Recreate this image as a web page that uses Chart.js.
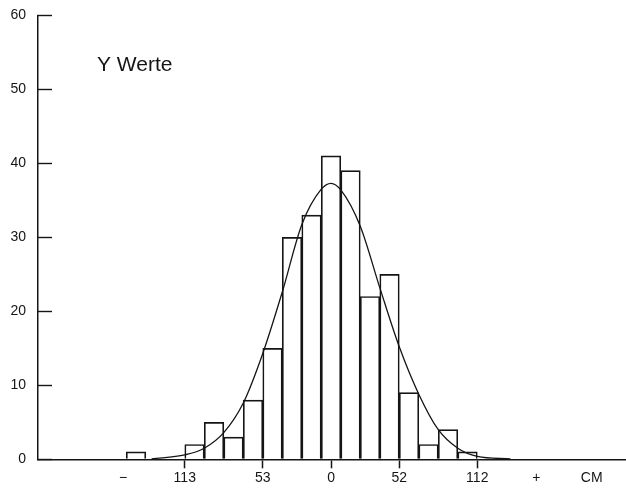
<!DOCTYPE html>
<html>
<head>
<meta charset="utf-8">
<script src="https://cdn.jsdelivr.net/npm/chart.js@4/dist/chart.umd.min.js"></script>
<style>
  html, body { margin: 0; padding: 0; background: #fff; }
  #wrap { position: relative; width: 626px; height: 489px; }
</style>
</head>
<body>
<div id="wrap"><canvas id="c"></canvas></div>
<script>
// ---- data ----
const titleText = 'Y Werte';
// histogram: bin centres in cm (bin width 15 cm) and counts
const binCenters = [-150, -105, -90, -75, -60, -45, -30, -15, 0, 15, 30, 45, 60, 75, 90, 105];
const binCounts  = [1, 2, 5, 3, 8, 15, 30, 33, 41, 39, 22, 25, 9, 2, 4, 1];
// fitted curve, points
const curveX = [-138, -112.5, -97.5, -82.5, -67.5, -52.5, -37.5, -22.5, -7.5, 0, 7.5, 22.5, 37.5, 52.5, 67.5, 82.5, 97.5, 112.5, 138];
const curveY = [0.05, 0.6, 1.5, 3.6, 7.6, 14.3, 22.6, 31.7, 36.5, 37.3, 36.4, 31.5, 23.2, 15.2, 8.8, 4.0, 1.5, 0.4, 0.05];
// x axis tick positions and labels
const xTickValues = [-160, -112.5, -52.5, 0, 52.5, 112.5, 158, 200.5];
const xTickLabels = ['\u2212', '113', '53', '0', '52', '112', '+', 'CM'];
const xNoMark = ['\u2212', '+', 'CM'];
const yTicks = [0, 10, 20, 30, 40, 50, 60];

const ink = '#151515';
const font = { family: '"Liberation Sans", Arial, sans-serif', size: 14 };

const titlePlugin = {
  id: 'innerTitle',
  afterDraw(chart) {
    const ctx = chart.ctx;
    ctx.save();
    ctx.font = '21px "Liberation Sans", Arial, sans-serif';
    ctx.fillStyle = ink;
    ctx.textAlign = 'left';
    ctx.textBaseline = 'middle';
    ctx.fillText(titleText, 97, 65);
    ctx.restore();
  }
};

new Chart(document.getElementById('c'), {
  data: {
    datasets: [
      {
        type: 'line',
        order: 0,
        data: curveX.map((x, i) => ({ x: x, y: curveY[i] })),
        borderColor: ink,
        borderWidth: 1.3,
        pointRadius: 0,
        cubicInterpolationMode: 'monotone',
        fill: false
      },
      {
        type: 'bar',
        order: 1,
        data: binCenters.map((x, i) => ({ x: x, y: binCounts[i] })),
        backgroundColor: 'rgba(255,255,255,0)',
        borderColor: ink,
        borderWidth: 1,
        borderSkipped: 'bottom',
        barPercentage: 1,
        categoryPercentage: 1
      }
    ]
  },
  options: {
    responsive: true,
    maintainAspectRatio: false,
    animation: false,
    events: [],
    layout: { padding: { top: 15.3, right: 0, bottom: 0, left: 0 } },
    plugins: { legend: { display: false }, tooltip: { enabled: false }, title: { display: false } },
    scales: {
      x: {
        type: 'linear',
        offset: false,
        min: -225.4,
        max: 226.9,
        afterFit(scale) { scale.height = 29.7; scale.paddingLeft = 0; scale.paddingRight = 0; },
        afterBuildTicks(scale) { scale.ticks = xTickValues.map(v => ({ value: v })); },
        grid: {
          offset: false,
          display: true,
          drawOnChartArea: false,
          drawTicks: true,
          tickLength: 9,
          tickWidth: 1.5,
          tickColor: (c) => (c.tick && xNoMark.includes(xTickLabels[xTickValues.indexOf(c.tick.value)])) ? 'rgba(0,0,0,0)' : ink
        },
        border: { display: true, color: ink, width: 1.5 },
        ticks: {
          autoSkip: false,
          maxRotation: 0,
          padding: 1.5,
          color: ink,
          font: font,
          callback: (v) => { const i = xTickValues.indexOf(v); return i >= 0 ? xTickLabels[i] : ''; }
        }
      },
      y: {
        type: 'linear',
        min: 0,
        max: 60,
        afterFit(scale) { scale.width = 38; scale.paddingTop = 8; scale.paddingBottom = 0; },
        afterBuildTicks(scale) { scale.ticks = yTicks.map(v => ({ value: v })); },
        grid: {
          drawOnChartArea: false,
          drawTicks: true,
          tickLength: -14,
          tickWidth: 1.4,
          tickColor: ink
        },
        border: { display: true, color: ink, width: 1.5 },
        ticks: {
          padding: 26,
          color: ink,
          font: font
        }
      }
    }
  },
  plugins: [titlePlugin]
});
</script>
</body>
</html>
